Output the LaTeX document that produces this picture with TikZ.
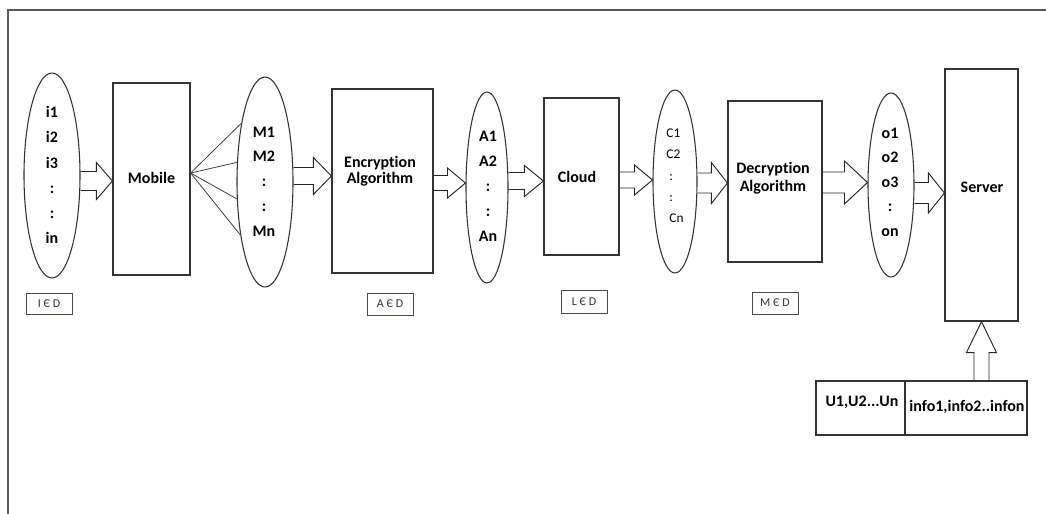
\documentclass[tikz,border=0pt]{standalone}
\usepackage{fontspec}
\setmainfont{Carlito}[Ligatures=NoCommon]
\usetikzlibrary{shapes.geometric,calc}
\tikzset{
  box/.style={draw=black!80, line width=0.9pt, rectangle, inner sep=0pt},
  oval/.style={draw=black!80, line width=0.8pt, ellipse, inner sep=0pt},
  tag/.style={draw=black!70, line width=0.7pt, rectangle, inner sep=0pt,
     font=\fontsize{9}{10}\selectfont, text={rgb,255:red,55;green,45;blue,85}},
  lbl/.style={font=\bfseries\fontsize{12}{14}\selectfont, inner sep=0pt},
  blockarrow/.style={draw=black!85, line width=0.7pt, line join=miter},
  fan/.style={draw=black!75, line width=0.6pt},
  frame/.style={draw=black!65, line width=1.1pt}
}
% horizontal block arrow: source, target, y(px), shaft half, head half, head length
\newcommand\harrow[6]{%
  \draw[blockarrow] let \p1=(#1.east), \p2=(#2.west) in
    (\x1,{-0.75pt*(#3-#4)}) -- ({\x2-0.75pt*#6},{-0.75pt*(#3-#4)})
    -- ({\x2-0.75pt*#6},{-0.75pt*(#3-#5)}) -- (\x2,{-0.75pt*#3})
    -- ({\x2-0.75pt*#6},{-0.75pt*(#3+#5)}) -- ({\x2-0.75pt*#6},{-0.75pt*(#3+#4)})
    -- (\x1,{-0.75pt*(#3+#4)});}
\begin{document}
\begin{tikzpicture}[x=0.75pt,y=-0.75pt]
\useasboundingbox (0,0) rectangle (1046,514);
% frame
\coordinate (fr0) at (8,514);
\coordinate (fr1) at (8,10);
\coordinate (fr2) at (1046,10);
\draw[frame] (fr0) -- (fr1) -- (fr2);

% ellipses
\node[oval, minimum width=42pt, minimum height=153.75pt] (ei) at (52,175.5) {};
\node[oval, minimum width=42pt, minimum height=157.5pt] (em) at (265,182) {};
\node[oval, minimum width=31.5pt, minimum height=143.25pt] (ea) at (487,187.5) {};
\node[oval, minimum width=33pt, minimum height=137.25pt] (ec) at (675,181.5) {};
\node[oval, minimum width=34.5pt, minimum height=138pt] (eo) at (891,185) {};

% rectangles
\node[box, minimum width=57.75pt, minimum height=144pt] (mob) at (151.5,179) {};
\node[box, minimum width=75.75pt, minimum height=138pt] (enc) at (382.5,181) {};
\node[box, minimum width=56.25pt, minimum height=117.75pt] (cld) at (581.5,176.5) {};
\node[box, minimum width=70.5pt, minimum height=120.75pt] (dec) at (775,181.5) {};
\node[box, minimum width=54.75pt, minimum height=189pt] (srv) at (981.5,195) {};

% texts in rectangles
\node[lbl] (mobT) at (151.5,178) {Mobile};
\node[lbl, align=center, font=\bfseries\fontsize{12}{12}\selectfont] (encT) at (380,171) {Encryption\\Algorithm};
\node[lbl] (cldT) at (577,177) {Cloud};
\node[lbl, align=center, font=\bfseries\fontsize{12}{13.5}\selectfont] (decT) at (773,178) {Decryption\\Algorithm};
\node[lbl] (srvT) at (982,187) {Server};

% lists in ellipses
\node[lbl, align=center, font=\bfseries\fontsize{12}{18.9}\selectfont] (eiT) at (52,175) {i1\\i2\\i3\\:\\:\\in};
\node[lbl, align=center, font=\bfseries\fontsize{12}{18.6}\selectfont] (emT) at (264,181.5) {M1\\M2\\:\\:\\Mn};
\node[lbl, align=center, font=\bfseries\fontsize{12}{18.75}\selectfont] (eaT) at (488,186) {A1\\A2\\:\\:\\An};
\node[lbl, align=left, font=\fontsize{10}{16}\selectfont] (ecT) at (675,176) {C1\\C2\\\ :\\\ :\\\ Cn};
\node[lbl, align=center, font=\bfseries\fontsize{12}{18.4}\selectfont] (eoT) at (890,182) {o1\\o2\\o3\\:\\on};

% tags
\node[tag, minimum width=34.5pt, minimum height=15.75pt] (tI) at (49,303.5) {I Є D};
\node[tag, minimum width=34.5pt, minimum height=16.5pt] (tA) at (390,304) {A Є D};
\node[tag, minimum width=34.5pt, minimum height=17.25pt] (tL) at (584,301.5) {L Є D};
\node[tag, minimum width=34.5pt, minimum height=16.5pt] (tM) at (775,303) {M Є D};

% table
\node[box, line width=0.8pt, minimum width=66.75pt, minimum height=40.5pt] (t1) at (860.5,408) {};
\node[box, line width=0.8pt, minimum width=91.5pt, minimum height=40.5pt] (t2) at (966,408) {};
\node[lbl] (t1T) at (862,402) {U1,U2...Un};
\node[lbl] (t2T) at (967,407) {info1,info2..infon};

% fan lines
\coordinate (fo) at ([yshift=4.5pt]mob.east);
\draw[fan] (fo) -- (em.112);
\draw[fan] (fo) -- (em.145);
\draw[fan] (fo) -- (em.211);
\draw[fan] (fo) -- (em.245);

% block arrows
\harrow{ei}{mob}{181}{9.5}{18.5}{16}
\harrow{em}{enc}{176}{8.5}{18.5}{18}
\harrow{enc}{ea}{183}{7.5}{15}{18}
\harrow{ea}{cld}{181}{8.5}{15.5}{19}
\harrow{cld}{ec}{180}{8}{15}{18}
\harrow{ec}{dec}{183}{10}{20.5}{16}
\harrow{dec}{eo}{182.5}{10.5}{21.5}{23}
\harrow{eo}{srv}{193}{10.5}{20}{16}

% up arrow from table to server
\draw[blockarrow] let \p1=(srv.south), \p2=(t2.north) in
  ({\x1-0.75pt*7.5},\y2) -- ({\x1-0.75pt*7.5},{\y1-0.75pt*31})
  -- ({\x1-0.75pt*15},{\y1-0.75pt*31}) -- (\x1,\y1)
  -- ({\x1+0.75pt*15},{\y1-0.75pt*31}) -- ({\x1+0.75pt*7.5},{\y1-0.75pt*31})
  -- ({\x1+0.75pt*7.5},\y2);
\end{tikzpicture}
\end{document}
